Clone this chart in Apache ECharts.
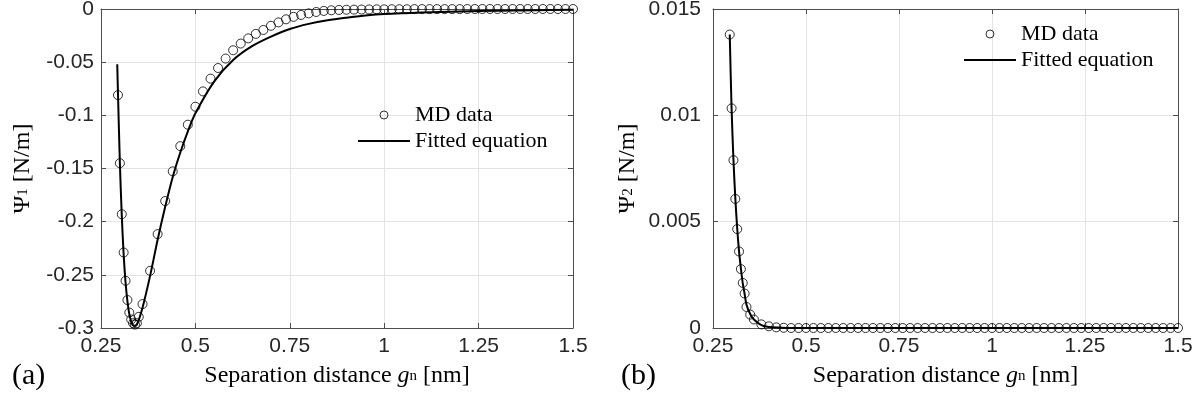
<!DOCTYPE html>
<html>
<head>
<meta charset="utf-8">
<script src="https://cdn.jsdelivr.net/npm/echarts@6/dist/echarts.min.js"></script>
<style>
html,body{margin:0;padding:0;background:#fff;}
#chart{width:1203px;height:403px;}
</style>
</head>
<body>
<div id="chart"></div>
<script>
// ---------- data ----------
const xTicks = ['0.25', '0.5', '0.75', '1', '1.25', '1.5'];

// Panel (a): Psi_1
const xMD1 = [0.295, 0.30, 0.305, 0.31, 0.315, 0.32, 0.325, 0.33, 0.335, 0.34, 0.345, 0.35, 0.36,
  0.38, 0.40, 0.42, 0.44, 0.46, 0.48, 0.50, 0.52, 0.54, 0.56, 0.58, 0.60, 0.62, 0.64, 0.66, 0.68,
  0.70, 0.72, 0.74, 0.76, 0.78, 0.80, 0.82, 0.84, 0.86, 0.88, 0.90, 0.92, 0.94, 0.96, 0.98, 1.00,
  1.02, 1.04, 1.06, 1.08, 1.10, 1.12, 1.14, 1.16, 1.18, 1.20, 1.22, 1.24, 1.26, 1.28, 1.30, 1.32,
  1.34, 1.36, 1.38, 1.40, 1.42, 1.44, 1.46, 1.48, 1.50];
const yMD1 = [-0.081, -0.145, -0.193, -0.229, -0.2556, -0.2737, -0.2855, -0.292, -0.2955, -0.2968, -0.2955, -0.2895, -0.2775,
  -0.2462, -0.2117, -0.1806, -0.1527, -0.129, -0.1088, -0.0919, -0.0775, -0.0655, -0.0555, -0.0466, -0.0388, -0.0325, -0.0276, -0.0234, -0.0197,
  -0.0158, -0.0126, -0.0097, -0.0074, -0.0056, -0.0041, -0.0028, -0.0018, -0.0012, -0.0009, -0.0007, -0.0006, -0.0005, -0.0004, -0.0003, -0.0003,
  -0.0002, -0.0002, -0.0002, -0.0001, -0.0001, -0.0001, -0.0001, -0.0001, -0.0001, -0.0001, 0, 0, 0, 0, 0, 0,
  0, 0, 0, 0, 0, 0, 0, 0, 0];
const xFit1 = [0.293, 0.295, 0.30, 0.305, 0.31, 0.315, 0.32, 0.325, 0.33, 0.335, 0.34, 0.345, 0.35, 0.36,
  0.38, 0.40, 0.42, 0.44, 0.46, 0.48, 0.50, 0.55, 0.60, 0.65, 0.70, 0.75, 0.80, 0.85, 0.90, 0.95, 1.00,
  1.10, 1.20, 1.30, 1.40, 1.50];
const yFit1 = [-0.052, -0.08, -0.145, -0.194, -0.231, -0.257, -0.275, -0.287, -0.294, -0.2975, -0.298, -0.2965, -0.2925, -0.281,
  -0.251, -0.217, -0.186, -0.158, -0.135, -0.115, -0.098, -0.068, -0.048, -0.035, -0.026, -0.0188, -0.014, -0.0106, -0.0082, -0.0062, -0.0048,
  -0.0033, -0.0023, -0.0016, -0.0011, -0.0008];

// Panel (b): Psi_2
const xMD2 = [0.295, 0.30, 0.305, 0.31, 0.315, 0.32, 0.325, 0.33, 0.335, 0.34, 0.35, 0.36,
  0.38, 0.40, 0.42, 0.44, 0.46, 0.48, 0.50, 0.52, 0.54, 0.56, 0.58, 0.60, 0.62, 0.64, 0.66, 0.68,
  0.70, 0.72, 0.74, 0.76, 0.78, 0.80, 0.82, 0.84, 0.86, 0.88, 0.90, 0.92, 0.94, 0.96, 0.98, 1.00,
  1.02, 1.04, 1.06, 1.08, 1.10, 1.12, 1.14, 1.16, 1.18, 1.20, 1.22, 1.24, 1.26, 1.28, 1.30, 1.32,
  1.34, 1.36, 1.38, 1.40, 1.42, 1.44, 1.46, 1.48, 1.50];
const yMD2 = [0.0138, 0.01033, 0.00789, 0.00607, 0.00465, 0.0036, 0.00277, 0.00212, 0.00162, 0.00099, 0.00063, 0.0004,
  0.00017, 0.00008, 0.00003, 0.00001, 0, 0, 0, 0, 0, 0, 0, 0, 0, 0, 0, 0,
  0, 0, 0, 0, 0, 0, 0, 0, 0, 0, 0, 0, 0, 0, 0, 0,
  0, 0, 0, 0, 0, 0, 0, 0, 0, 0, 0, 0, 0, 0, 0, 0,
  0, 0, 0, 0, 0, 0, 0, 0, 0];
const xFit2 = [0.295, 0.30, 0.305, 0.31, 0.315, 0.32, 0.325, 0.33, 0.335, 0.34, 0.35, 0.36, 0.38, 0.40, 0.45, 0.50, 1.50];
const yFit2 = [0.0138, 0.0103, 0.0079, 0.0061, 0.0047, 0.0036, 0.0028, 0.0021, 0.0016, 0.0011, 0.00066, 0.0004, 0.00014, 0.00005, 0.000005, 0, 0];

const seriesNames = ['MD data', 'Fitted equation'];

// ---------- helpers ----------
const pairs = (xs, ys) => xs.map((x, i) => [x, ys[i]]);
const AX = '#4d4d4d';
const TXT = '#262626';
const SERIF = '"Liberation Serif", "Times New Roman", serif';
const SANS = '"Liberation Sans", Arial, Helvetica, sans-serif';

const nameStyle = {
  fontFamily: SERIF, fontSize: 24, color: '#000', lineHeight: 28,
  rich: {
    i: { fontFamily: SERIF, fontSize: 24, fontStyle: 'italic', color: '#000', lineHeight: 28 },
    s: { fontFamily: SERIF, fontSize: 15, color: '#000', lineHeight: 7 },
    p: { fontFamily: SERIF, fontSize: 24, color: '#000', lineHeight: 28 }
  }
};

function mainX(grid, name) {
  return {
    gridIndex: grid, type: 'value', position: 'bottom', min: 0.25, max: 1.5, interval: 0.25,
    axisLine: { show: true, onZero: false, lineStyle: { color: AX, width: 1 } },
    axisTick: { show: true, inside: true, length: 5, lineStyle: { color: AX } },
    axisLabel: { show: true, margin: 8, color: TXT, fontSize: 21, fontFamily: SANS,
      showMinLabel: true, showMaxLabel: true,
      formatter: v => xTicks[Math.round((v - 0.25) / 0.25)] },
    splitLine: { show: true, lineStyle: { color: '#e3e3e3', width: 1 } },
    name: name, nameLocation: 'middle', nameGap: 28, nameTextStyle: nameStyle
  };
}
function topX(grid) {
  return {
    gridIndex: grid, type: 'value', position: 'top', min: 0.25, max: 1.5, interval: 0.25,
    axisLine: { show: true, onZero: false, lineStyle: { color: AX, width: 1 } },
    axisTick: { show: true, inside: true, length: 5, lineStyle: { color: AX } },
    axisLabel: { show: false }, splitLine: { show: false }
  };
}
function mainY(grid, min, max, interval, name, margin, gap) {
  return {
    gridIndex: grid, type: 'value', position: 'left', min: min, max: max, interval: interval,
    axisLine: { show: true, onZero: false, lineStyle: { color: AX, width: 1 } },
    axisTick: { show: true, inside: true, length: 5, lineStyle: { color: AX } },
    axisLabel: { show: true, margin: margin, color: TXT, fontSize: 21, fontFamily: SANS,
      showMinLabel: true, showMaxLabel: true },
    splitLine: { show: true, lineStyle: { color: '#e3e3e3', width: 1 } },
    name: name, nameLocation: 'middle', nameGap: gap, nameTextStyle: nameStyle
  };
}
function rightY(grid, min, max, interval) {
  return {
    gridIndex: grid, type: 'value', position: 'right', min: min, max: max, interval: interval,
    axisLine: { show: true, onZero: false, lineStyle: { color: AX, width: 1 } },
    axisTick: { show: true, inside: true, length: 5, lineStyle: { color: AX } },
    axisLabel: { show: false }, splitLine: { show: false }
  };
}
function legendAt(left, top) {
  return {
    left: left, top: top, orient: 'vertical', padding: 5,
    itemWidth: 52, itemHeight: 8, itemGap: 4, selectedMode: false,
    data: [
      { name: seriesNames[0], itemStyle: { color: 'rgba(0,0,0,0)', borderColor: '#000', borderWidth: 1 } },
      { name: seriesNames[1], itemStyle: { opacity: 0 }, lineStyle: { color: '#000', width: 2 } }
    ],
    textStyle: { fontFamily: SERIF, fontSize: 22, color: '#000' }
  };
}
const scatterStyle = { color: 'rgba(0,0,0,0)', borderColor: '#000', borderWidth: 1 };

const chart = echarts.init(document.getElementById('chart'), null, { renderer: 'canvas' });
chart.setOption({
  animation: false,
  backgroundColor: '#fff',
  grid: [
    { left: 101, top: 9, width: 472, height: 319, containLabel: false, outerBoundsMode: 'none' },
    { left: 713, top: 9, width: 465, height: 319, containLabel: false, outerBoundsMode: 'none' }
  ],
  xAxis: [
    mainX(0, 'Separation distance {i|g}{s|n} [nm]'), topX(0),
    mainX(1, 'Separation distance {i|g}{s|n} [nm]'), topX(1)
  ],
  yAxis: [
    mainY(0, -0.3, 0, 0.05, '{p|Ψ}{s|1} [N/m]', 7, 64), rightY(0, -0.3, 0, 0.05),
    mainY(1, 0, 0.015, 0.005, '{p|Ψ}{s|2} [N/m]', 12, 71), rightY(1, 0, 0.015, 0.005)
  ],
  legend: [legendAt(352, 99), legendAt(958, 18)],
  graphic: [
    { type: 'text', left: 12, top: 361, style: { text: '(a)', font: '30px "Liberation Serif"', fill: '#000' } },
    { type: 'text', left: 621, top: 361, style: { text: '(b)', font: '30px "Liberation Serif"', fill: '#000' } }
  ],
  series: [
    { type: 'scatter', name: 'MD data', xAxisIndex: 0, yAxisIndex: 0, data: pairs(xMD1, yMD1),
      symbol: 'circle', symbolSize: 9, itemStyle: scatterStyle, z: 3 },
    { type: 'line', name: 'Fitted equation', xAxisIndex: 0, yAxisIndex: 0, data: pairs(xFit1, yFit1),
      symbol: 'none', showSymbol: false, smooth: 0.3, lineStyle: { color: '#000', width: 2 }, itemStyle: { color: '#000' }, z: 2 },
    { type: 'scatter', name: 'MD data', xAxisIndex: 2, yAxisIndex: 2, data: pairs(xMD2, yMD2),
      symbol: 'circle', symbolSize: 9, itemStyle: scatterStyle, z: 3 },
    { type: 'line', name: 'Fitted equation', xAxisIndex: 2, yAxisIndex: 2, data: pairs(xFit2, yFit2),
      symbol: 'none', showSymbol: false, smooth: 0.3, lineStyle: { color: '#000', width: 2 }, itemStyle: { color: '#000' }, z: 2 }
  ]
});
</script>
</body>
</html>
